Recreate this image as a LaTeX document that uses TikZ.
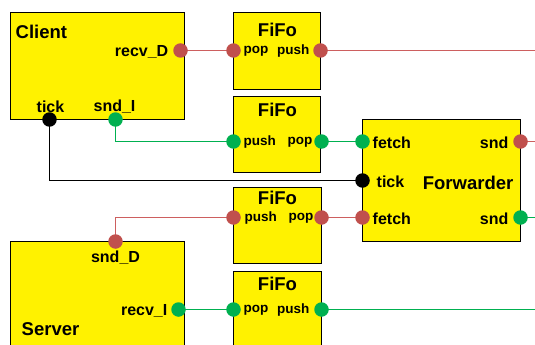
\documentclass[tikz,border=0pt]{standalone}
\usepackage{fontspec}
\setmainfont{Liberation Sans}
\begin{document}
\begin{tikzpicture}[x=1pt,y=-1pt,
  blk/.style={draw=black,line width=1.2pt,fill=yellow},
  title/.style={font=\bfseries\fontsize{18.5}{20}\selectfont,inner sep=0pt},
  plab/.style={font=\bfseries\fontsize{16}{17}\selectfont,inner sep=0pt},
  flab/.style={font=\bfseries\fontsize{13.5}{15}\selectfont,inner sep=0pt},
  rport/.style={circle,fill=portred,inner sep=0pt,minimum size=14.5pt},
  gport/.style={circle,fill=portgreen,inner sep=0pt,minimum size=14.5pt},
  kport/.style={circle,fill=black,inner sep=0pt,minimum size=14.5pt},
  rwire/.style={draw=wirered,line width=1.1pt},
  gwire/.style={draw=portgreen,line width=1.1pt},
  kwire/.style={draw=black,line width=1.1pt}]
\definecolor{portred}{RGB}{192,80,77}
\definecolor{wirered}{RGB}{205,95,95}
\definecolor{portgreen}{RGB}{0,176,80}
\useasboundingbox (-0.5,-0.5) rectangle (534.5,344.5);

% blocks
\path[blk] (10,12) rectangle (184,119);
\path[blk] (233,12) rectangle (320,89);
\path[blk] (233,96) rectangle (320,172);
\path[blk] (362,119) rectangle (520,241);
\path[blk] (233,187) rectangle (321,263);
\path[blk] (233,271) rectangle (321,350);
\path[blk] (10,241) rectangle (184,350);

% right edge coordinates
\coordinate (e1) at (535,50);
\coordinate (e2) at (535,141);
\coordinate (e3) at (535,217);
\coordinate (e4) at (535,309);

% port positions
\coordinate (cRecvD) at (180,50);
\coordinate (cF1pop) at (233,50);
\coordinate (cF1push) at (320,50);
\coordinate (cSndI) at (115,119);
\coordinate (cF2push) at (233,141);
\coordinate (cF2pop) at (321,141);
\coordinate (cFwFetch1) at (362,141);
\coordinate (cTick) at (49,119);
\coordinate (cFwTick) at (362,180);
\coordinate (cSndD) at (115,241);
\coordinate (cF3push) at (233,217);
\coordinate (cF3pop) at (321,217);
\coordinate (cFwFetch2) at (362,217);
\coordinate (cFwSnd1) at (520,141);
\coordinate (cFwSnd2) at (520,217);
\coordinate (cRecvI) at (178,309);
\coordinate (cF4pop) at (233,309);
\coordinate (cF4push) at (321,309);

% wires
\path[rwire] (cRecvD) -- (cF1pop);
\path[rwire] (cF1push) -- (e1);
\path[gwire] (cSndI) |- (cF2push);
\path[gwire] (cF2pop) -- (cFwFetch1);
\path[kwire] (cTick) |- (cFwTick);
\path[rwire] (cSndD) |- (cF3push);
\path[rwire] (cF3pop) -- (cFwFetch2);
\path[rwire] (cFwSnd1) -- (e2);
\path[gwire] (cFwSnd2) -- (e3);
\path[gwire] (cRecvI) -- (cF4pop);
\path[gwire] (cF4push) -- (e4);

% ports
\node[rport] (recvD) at (cRecvD) {};
\node[rport] (f1pop) at (cF1pop) {};
\node[rport] (f1push) at (cF1push) {};
\node[gport] (sndI) at (cSndI) {};
\node[kport] (tick) at (cTick) {};
\node[gport] (f2push) at (cF2push) {};
\node[gport] (f2pop) at (cF2pop) {};
\node[gport] (fwfetch1) at (cFwFetch1) {};
\node[kport] (fwtick) at (cFwTick) {};
\node[rport] (fwfetch2) at (cFwFetch2) {};
\node[rport] (fwsnd1) at (cFwSnd1) {};
\node[gport] (fwsnd2) at (cFwSnd2) {};
\node[rport] (f3push) at (cF3push) {};
\node[rport] (f3pop) at (cF3pop) {};
\node[rport] (sndD) at (cSndD) {};
\node[gport] (recvI) at (cRecvI) {};
\node[gport] (f4pop) at (cF4pop) {};
\node[gport] (f4push) at (cF4push) {};

% Client texts
\node[title,anchor=west] (tClient) at (15,31) {Client};
\node[plab,anchor=east] (lRecvD) at (168,51) {recv\_D};
\node[plab] (lTick) at (50,106) {tick};
\node[plab] (lSndI) at (114,106) {snd\_I};

% FiFo texts
\node[title] (tF1) at (277,29) {FiFo};
\node[flab,anchor=west] (l1a) at (243,51) {pop};
\node[flab,anchor=east] (l1b) at (309,51) {push};
\node[title] (tF2) at (277,109) {FiFo};
\node[flab,anchor=west] (l2a) at (243,142) {push};
\node[flab,anchor=east] (l2b) at (312,142) {pop};
\node[title] (tF3) at (277,197) {FiFo};
\node[flab,anchor=west] (l3a) at (244,218) {push};
\node[flab,anchor=east] (l3b) at (313,218) {pop};
\node[title] (tF4) at (277,283) {FiFo};
\node[flab,anchor=west] (l4a) at (243,310) {pop};
\node[flab,anchor=east] (l4b) at (309,310) {push};

% Forwarder texts
\node[plab,anchor=west] (lf1) at (372,142) {fetch};
\node[plab,anchor=west] (lft) at (376,181) {tick};
\node[plab,anchor=west] (lf2) at (372,218) {fetch};
\node[plab,anchor=east] (ls1) at (508,142) {snd};
\node[plab,anchor=east] (ls2) at (508,218) {snd};
\node[title,anchor=east] (tFw) at (513,182) {Forwarder};

% Server texts
\node[plab] (lSndD) at (115,257) {snd\_D};
\node[plab,anchor=east] (lRecvI) at (167,310) {recv\_I};
\node[title,anchor=west] (tServer) at (21,329) {Server};
\end{tikzpicture}
\end{document}
